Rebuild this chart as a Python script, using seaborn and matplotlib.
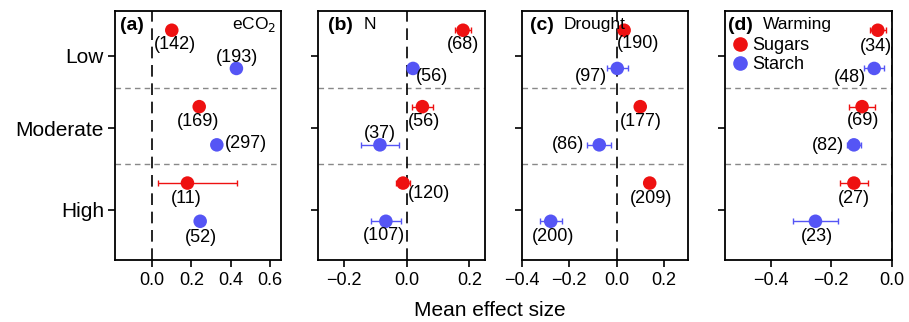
import numpy as np
import pandas as pd
import matplotlib.pyplot as plt
from matplotlib.lines import Line2D
import seaborn as sns

sns.set_style("ticks")
plt.rcParams['font.family'] = ['Liberation Sans', 'DejaVu Sans']
plt.rcParams['text.color'] = 'black'
plt.rcParams['axes.labelcolor'] = 'black'

levels = ["Low", "Moderate", "High"]
nutrients = ["Sugars", "Starch"]
panel_tags = ["(a)", "(b)", "(c)", "(d)"]
factors = ["eCO$_2$", "N", "Drought", "Warming"]

# mean effect size and CI per panel (eCO2, N, Drought, Warming), levels Low/Moderate/High
sugar_mean = [[0.10, 0.24, 0.18], [0.18, 0.05, -0.012], [0.032, 0.10, 0.14], [-0.046, -0.098, -0.125]]
sugar_lo = [[0.085, 0.235, 0.03], [0.153, 0.017, -0.033], [0.027, 0.095, 0.135], [-0.073, -0.142, -0.171]]
sugar_hi = [[0.115, 0.245, 0.435], [0.207, 0.083, 0.009], [0.037, 0.105, 0.145], [-0.019, -0.054, -0.079]]
sugar_n = [[142, 169, 11], [68, 56, 120], [190, 177, 209], [34, 69, 27]]

starch_mean = [[0.43, 0.33, 0.245], [0.02, -0.086, -0.067], [0.003, -0.073, -0.278], [-0.058, -0.125, -0.252]]
starch_lo = [[0.425, 0.325, 0.225], [0.015, -0.147, -0.116], [-0.041, -0.123, -0.324], [-0.090, -0.148, -0.326]]
starch_hi = [[0.435, 0.335, 0.265], [0.025, -0.025, -0.018], [0.047, -0.023, -0.232], [-0.026, -0.102, -0.178]]
starch_n = [[193, 297, 52], [56, 37, 107], [97, 86, 200], [48, 82, 23]]

palette = {"Sugars": "#EE1111", "Starch": "#5555F5"}

# label offsets in pixels (dx, dy down) for each point
sugar_off = [[(3, 14), (-1, 15), (-1, 15)],
             [(0, 14), (2, 15), (26, 10)],
             [(14, 13), (1, 15), (1, 15)],
             [(-2, 16), (1, 14), (0, 15)]]
starch_off = [[(1, -11), (29, -1), (1, 16)],
              [(19, 8), (0, -11), (-2, 14)],
              [(-26, 8), (-31, 0), (2, 15)],
              [(-24, 9), (-26, 1), (1, 15)]]

xlims = [(-0.19, 0.66), (-0.283, 0.25), (-0.4, 0.303), (-0.55, 0.0)]
xticks = [[0.0, 0.2, 0.4, 0.6], [-0.2, 0.0, 0.2], [-0.4, -0.2, 0.0, 0.2], [-0.4, -0.2, 0.0]]

rows = []
for p in range(4):
    for li, lev in enumerate(levels):
        rows.append(dict(panel=p, level=lev, nutrient="Sugars", y=li * 2,
                         mean=sugar_mean[p][li], lo=sugar_lo[p][li], hi=sugar_hi[p][li],
                         n=sugar_n[p][li], off=sugar_off[p][li]))
        rows.append(dict(panel=p, level=lev, nutrient="Starch", y=li * 2 + 1,
                         mean=starch_mean[p][li], lo=starch_lo[p][li], hi=starch_hi[p][li],
                         n=starch_n[p][li], off=starch_off[p][li]))
df = pd.DataFrame(rows)

fig, axes = plt.subplots(1, 4, figsize=(9.09, 3.22), dpi=100, sharey=True)
fig.subplots_adjust(left=0.1265, right=0.981, top=0.966, bottom=0.193, wspace=0.222)

for i, ax in enumerate(axes):
    d = df[df.panel == i]
    for yl in (1.5, 3.5):
        ax.axhline(yl, color="#888888", ls=(0, (4, 3)), lw=1, zorder=1)
    ax.axvline(0, color="black", ls=(0, (7, 4)), lw=1.2, zorder=1)
    for nut in nutrients:
        s = d[d.nutrient == nut]
        ax.errorbar(s["mean"], s["y"], xerr=[s["mean"] - s["lo"], s["hi"] - s["mean"]],
                    fmt="none", ecolor=palette[nut], elinewidth=1, capsize=2, capthick=1, zorder=2)
    sns.scatterplot(data=d, x="mean", y="y", hue="nutrient", palette=palette, s=95,
                    edgecolor="none", legend=False, ax=ax, zorder=3)
    for _, r in d.iterrows():
        dx, dy = r["off"]
        ax.annotate(f"({r['n']})", (r["mean"], r["y"]), xytext=(dx, -dy),
                    textcoords="offset pixels", ha="center", va="center", fontsize=13)

    ax.set_ylim(6.01, -0.505)
    ax.set_yticks([0.67, 2.56, 4.70])
    ax.set_yticklabels(levels)
    ax.set_xlim(xlims[i])
    ax.set_xticks(xticks[i])
    ax.set_xlabel("")
    ax.set_ylabel("")
    ax.tick_params(axis="x", labelsize=13, length=5, width=1.2, colors="black", pad=4)
    ax.tick_params(axis="y", labelsize=15, length=5, width=1.2, colors="black", pad=3)
    for sp in ax.spines.values():
        sp.set_visible(True)
        sp.set_linewidth(1.3)
        sp.set_color("black")

# panel tags and factor names
tag_x = [0.03, 0.06, 0.05, 0.016]
fac_x = [0.967, 0.274, 0.252, 0.226]
for i, ax in enumerate(axes):
    ax.text(tag_x[i], 0.941, panel_tags[i], transform=ax.transAxes, fontsize=14,
            fontweight="bold", ha="left", va="center")
    ax.text(fac_x[i], 0.945, factors[i], transform=ax.transAxes, fontsize=12.5,
            ha="right" if i == 0 else "left", va="center")

handles = [Line2D([], [], marker="o", ls="none", color=palette[n], markersize=9.5) for n in nutrients]
axes[3].legend(handles, nutrients, loc="upper left", bbox_to_anchor=(0.045, 0.895), frameon=False,
               fontsize=13, handlelength=0.8, handletextpad=0.3, borderpad=0, borderaxespad=0,
               labelspacing=0.12)

fig.text(0.539, 0.037, "Mean effect size", ha="center", va="center", fontsize=15)

fig.savefig("out.png", dpi=100)
